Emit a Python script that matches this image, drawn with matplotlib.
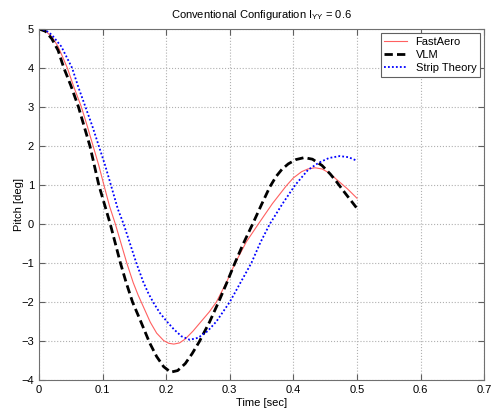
import matplotlib
matplotlib.use('Agg')
import matplotlib.pyplot as plt

# pitch response
t_vlm = [0, 0.01, 0.02, 0.03, 0.039, 0.05, 0.062, 0.071, 0.080, 0.087, 0.094, 0.103,
         0.112, 0.120, 0.128, 0.137, 0.147, 0.160, 0.174, 0.185, 0.196, 0.207, 0.218,
         0.230, 0.241, 0.252, 0.268, 0.283, 0.295, 0.306, 0.320, 0.336, 0.350, 0.363,
         0.373, 0.382, 0.392, 0.404, 0.417, 0.430, 0.445, 0.458, 0.468, 0.480, 0.490, 0.500]
p_vlm = [5.0, 4.94, 4.75, 4.45, 4.0, 3.55, 3.0, 2.5, 2.0, 1.5, 1.0, 0.5,
         0.0, -0.5, -1.0, -1.5, -2.0, -2.5, -3.05, -3.4, -3.66, -3.8, -3.76,
         -3.58, -3.32, -3.02, -2.52, -1.98, -1.52, -1.08, -0.55, 0.0, 0.5, 0.95,
         1.22, 1.40, 1.54, 1.65, 1.70, 1.66, 1.50, 1.28, 1.08, 0.82, 0.61, 0.40]

t_fa = [0, 0.01, 0.02, 0.03, 0.0445, 0.055, 0.0666, 0.076, 0.085, 0.094, 0.102, 0.111,
        0.120, 0.129, 0.138, 0.148, 0.156, 0.164, 0.175, 0.185, 0.196, 0.204, 0.212,
        0.221, 0.230, 0.242, 0.255, 0.268, 0.279, 0.295, 0.308, 0.326, 0.345, 0.367,
        0.389, 0.400, 0.413, 0.423, 0.434, 0.445, 0.456, 0.468, 0.485, 0.5]
p_fa = [5.0, 4.95, 4.8, 4.55, 4.0, 3.5, 3.0, 2.5, 2.0, 1.5, 1.0, 0.45,
        0.0, -0.5, -1.0, -1.5, -1.83, -2.12, -2.52, -2.8, -2.99, -3.06, -3.08,
        -3.05, -2.95, -2.75, -2.5, -2.25, -2.0, -1.49, -1.02, -0.46, 0.0, 0.52,
        0.98, 1.18, 1.34, 1.41, 1.44, 1.41, 1.31, 1.14, 0.9, 0.66]

t_st = [0, 0.01, 0.02, 0.035, 0.052, 0.062, 0.073, 0.084, 0.094, 0.104, 0.113, 0.124,
        0.133, 0.143, 0.153, 0.164, 0.172, 0.180, 0.190, 0.201, 0.212, 0.224, 0.237,
        0.250, 0.265, 0.279, 0.300, 0.317, 0.334, 0.348, 0.363, 0.383, 0.403, 0.423,
        0.440, 0.456, 0.473, 0.487, 0.5]
p_st = [5.0, 4.97, 4.85, 4.55, 4.0, 3.5, 3.0, 2.5, 2.0, 1.5, 1.0, 0.38,
        0.0, -0.5, -1.0, -1.49, -1.78, -2.02, -2.28, -2.5, -2.7, -2.88, -2.97,
        -2.92, -2.75, -2.5, -2.0, -1.5, -1.0, -0.48, 0.0, 0.52, 1.0, 1.385,
        1.57, 1.69, 1.74, 1.71, 1.62]

plt.rcParams['font.family'] = ['Liberation Sans', 'DejaVu Sans']
plt.rcParams['font.size'] = 8
plt.rcParams['mathtext.fontset'] = 'custom'
plt.rcParams['mathtext.rm'] = 'Liberation Sans'
plt.rcParams['mathtext.it'] = 'Liberation Sans'

fig = plt.figure(figsize=(4.94, 4.13), dpi=100)
ax = fig.add_axes([0.079, 0.080, 0.901, 0.850])

ax.plot(t_fa, p_fa, color='#ff6060', lw=0.8, label='FastAero')
ax.plot(t_vlm, p_vlm, color='black', lw=2.0, ls=(0, (3, 1.5)), label='VLM')
ax.plot(t_st, p_st, color='blue', lw=1.3, ls=(0, (1, 1.2)), label='Strip Theory')

ax.set_xlim(0, 0.7)
ax.set_ylim(-4, 5)
ax.set_xticks([0, 0.1, 0.2, 0.3, 0.4, 0.5, 0.6, 0.7])
ax.set_xticklabels(['0', '0.1', '0.2', '0.3', '0.4', '0.5', '0.6', '0.7'])
ax.set_yticks(range(-4, 6))
ax.grid(True, color='#b0b0b0', ls=':', lw=0.8)
ax.tick_params(direction='in', length=4, color='#606060', labelsize=8,
               top=True, right=True)
for s in ax.spines.values():
    s.set_color('#707070')

ax.set_title(r'Conventional Configuration I$_{\mathrm{YY}}$ = 0.6', fontsize=8, pad=8)
ax.set_xlabel('Time [sec]', fontsize=8, labelpad=2)
ax.set_ylabel('Pitch [deg]', fontsize=8, labelpad=-2)

leg = ax.legend(loc='upper right', fancybox=False, framealpha=1, edgecolor='#606060',
                fontsize=8, handlelength=2.0, borderpad=0.3, labelspacing=0.3,
                borderaxespad=0.4)
leg.get_frame().set_linewidth(0.8)

fig.savefig('out.png', dpi=100)
